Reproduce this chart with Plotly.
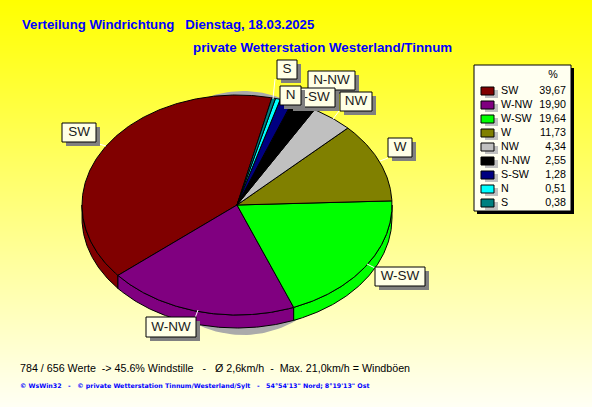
import numpy as np
import plotly.graph_objects as go

# ---- data ----
categories = ["SW", "W-NW", "W-SW", "W", "NW", "N-NW", "S-SW", "N", "S"]
percent = [39.67, 19.90, 19.64, 11.73, 4.34, 2.55, 1.28, 0.51, 0.38]
percent_labels = ["39,67", "19,90", "19,64", "11,73", "4,34", "2,55", "1,28", "0,51", "0,38"]
colors = ["#800000", "#800080", "#00ff00", "#808000", "#c0c0c0", "#000000", "#000080", "#00ffff", "#008080"]

title_1 = "Verteilung Windrichtung\u00a0\u00a0\u00a0Dienstag, 18.03.2025"
title_2 = "private Wetterstation Westerland/Tinnum"
info = "784 / 656 Werte\u00a0\u00a0-> 45.6% Windstille\u00a0\u00a0\u00a0-\u00a0\u00a0\u00a0Ø 2,6km/h\u00a0\u00a0-\u00a0\u00a0Max. 21,0km/h = Windböen"
footer = "© WsWin32\u00a0\u00a0\u00a0-\u00a0\u00a0\u00a0© private Wetterstation Tinnum/Westerland/Sylt\u00a0\u00a0\u00a0-\u00a0\u00a0\u00a054°54'13\" Nord; 8°19'13\" Ost"

# ---- layout constants ----
W, H = 592, 407
CX, CY, RX, RY, DEPTH = 237, 205, 155, 110, 13
START = 77.0
SANS = "Liberation Sans, Arial, sans-serif"
# label order is drawing order (later ones overlap earlier ones)
label_boxes = [
    ("SW", 62, 123, 96, 142),
    ("W-NW", 146, 317, 196, 337),
    ("W-SW", 375, 267, 425, 286),
    ("W", 388, 138, 412, 157),
    ("S", 277, 60, 297, 79),
    ("N-NW", 308, 71, 355, 90),
    ("S-SW", 289, 88, 335, 107),
    ("NW", 340, 92, 372, 111),
    ("N", 280, 86, 301, 105),
]
leaders = [((275, 79), (273, 99)), ((339, 111), (333, 119)), ((198, 310), (195, 318)),
           ((99, 144), (106, 146)), ((380, 161), (388, 158)), ((367, 264), (375, 268))]

fig = go.Figure()

# background gradient
ys = np.arange(-4, H + 9, 4)
blue = np.clip(ys / H * 245, 0, 245)
fig.add_trace(go.Heatmap(
    x=[-5, W + 5], y=ys, z=np.column_stack([blue, blue]),
    colorscale=[[0, "rgb(255,255,0)"], [1, "rgb(255,255,245)"]], zmin=0, zmax=245,
    showscale=False, hoverinfo="skip", zsmooth="best"))


def poly(x, y, fill, line="rgba(0,0,0,0)", width=0):
    fig.add_trace(go.Scatter(x=x, y=y, mode="lines", fill="toself", fillcolor=fill,
                             line=dict(color=line, width=width), hoverinfo="skip", showlegend=False))


def rect(x0, y0, x1, y1, fill, line="rgba(0,0,0,0)", width=0):
    poly([x0, x1, x1, x0, x0], [y0, y0, y1, y1, y0], fill, line, width)


def text(x, y, s, size=11, color="black", pos="middle right", bold=False, family=SANS):
    fig.add_trace(go.Scatter(x=[x], y=[y], mode="text", text=[f"<b>{s}</b>" if bold else s],
                             textposition=pos, textfont=dict(size=size, color=color, family=family),
                             hoverinfo="skip", showlegend=False))


def arc(a0, a1, dy=0):
    t = np.radians(np.linspace(a0, a1, max(int(abs(a1 - a0)) * 2, 2) + 1))
    return CX + RX * np.cos(t), CY + dy - RY * np.sin(t)


# shadow behind the pie
t = np.radians(np.linspace(0, 360, 181))
poly(243 + 112 * np.cos(t), 213 + 122 * np.sin(t), "#aaaaaa")

# slices
edges = START + np.concatenate([[0], np.cumsum(percent)]) * 3.6
# side wall: visible on the lower half of the ellipse
for i, c in enumerate(colors):
    for shift in (0, 360):
        a0 = max(edges[i], 180 + shift)
        a1 = min(edges[i + 1], 360 + shift)
        if a1 > a0:
            xt, yt = arc(a0, a1)
            xb, yb = arc(a0, a1, DEPTH)
            poly(np.r_[xt, xb[::-1], xt[0]], np.r_[yt, yb[::-1], yt[0]], c, "black", 1)
# top faces
for i, c in enumerate(colors):
    x, y = arc(edges[i], edges[i + 1])
    poly(np.r_[CX, x, CX], np.r_[CY, y, CY], c, "black", 1)

# leader lines
for (x0, y0), (x1, y1) in leaders:
    fig.add_trace(go.Scatter(x=[x0, x1], y=[y0, y1], mode="lines", line=dict(color="white", width=1),
                             hoverinfo="skip", showlegend=False))

# slice labels
for name, x0, y0, x1, y1 in label_boxes:
    rect(x0 + 4, y0 + 4, x1 + 4, y1 + 4, "#808080")
    rect(x0, y0, x1, y1, "#ffffe6", "black", 1)
    text((x0 + x1) / 2, (y0 + y1) / 2 + 0.5, name, size=13.5, color="#1a1a1a", pos="middle center")

# legend
rect(477, 68, 574, 214, "black")
rect(474, 65, 571, 211, "#fffff0", "black", 1)
text(553, 75, "%", size=10.7, pos="middle center")
for i, (name, lab, c) in enumerate(zip(categories, percent_labels, colors)):
    yy = 91 + i * 14
    rect(485, yy - 1, 498, yy + 7, "#c0c0c0")
    rect(481, yy - 4, 494, yy + 4, c, "black", 1)
    text(501, yy, name, size=10.7)
    text(566, yy, lab, size=10.7, pos="middle left")

# titles and notes
text(22, 26, title_1, size=13.2, color="#0000ff", bold=True)
text(193, 49, title_2, size=13.33, color="#0000ff", bold=True)
text(20, 369, info, size=10.7)
text(20, 386, footer, size=6.3, color="#0000ff", bold=True, family="DejaVu Sans, sans-serif")

fig.update_layout(
    width=W, height=H, margin=dict(l=0, r=0, t=0, b=0), showlegend=False,
    paper_bgcolor="#ffffc0", plot_bgcolor="rgba(0,0,0,0)",
    xaxis=dict(range=[0, W], visible=False, fixedrange=True),
    yaxis=dict(range=[H, 0], visible=False, fixedrange=True),
)
fig.write_html("out.html", config={"displayModeBar": False, "responsive": False},
               post_script="document.body.style.margin='0';document.body.style.overflow='hidden';")
